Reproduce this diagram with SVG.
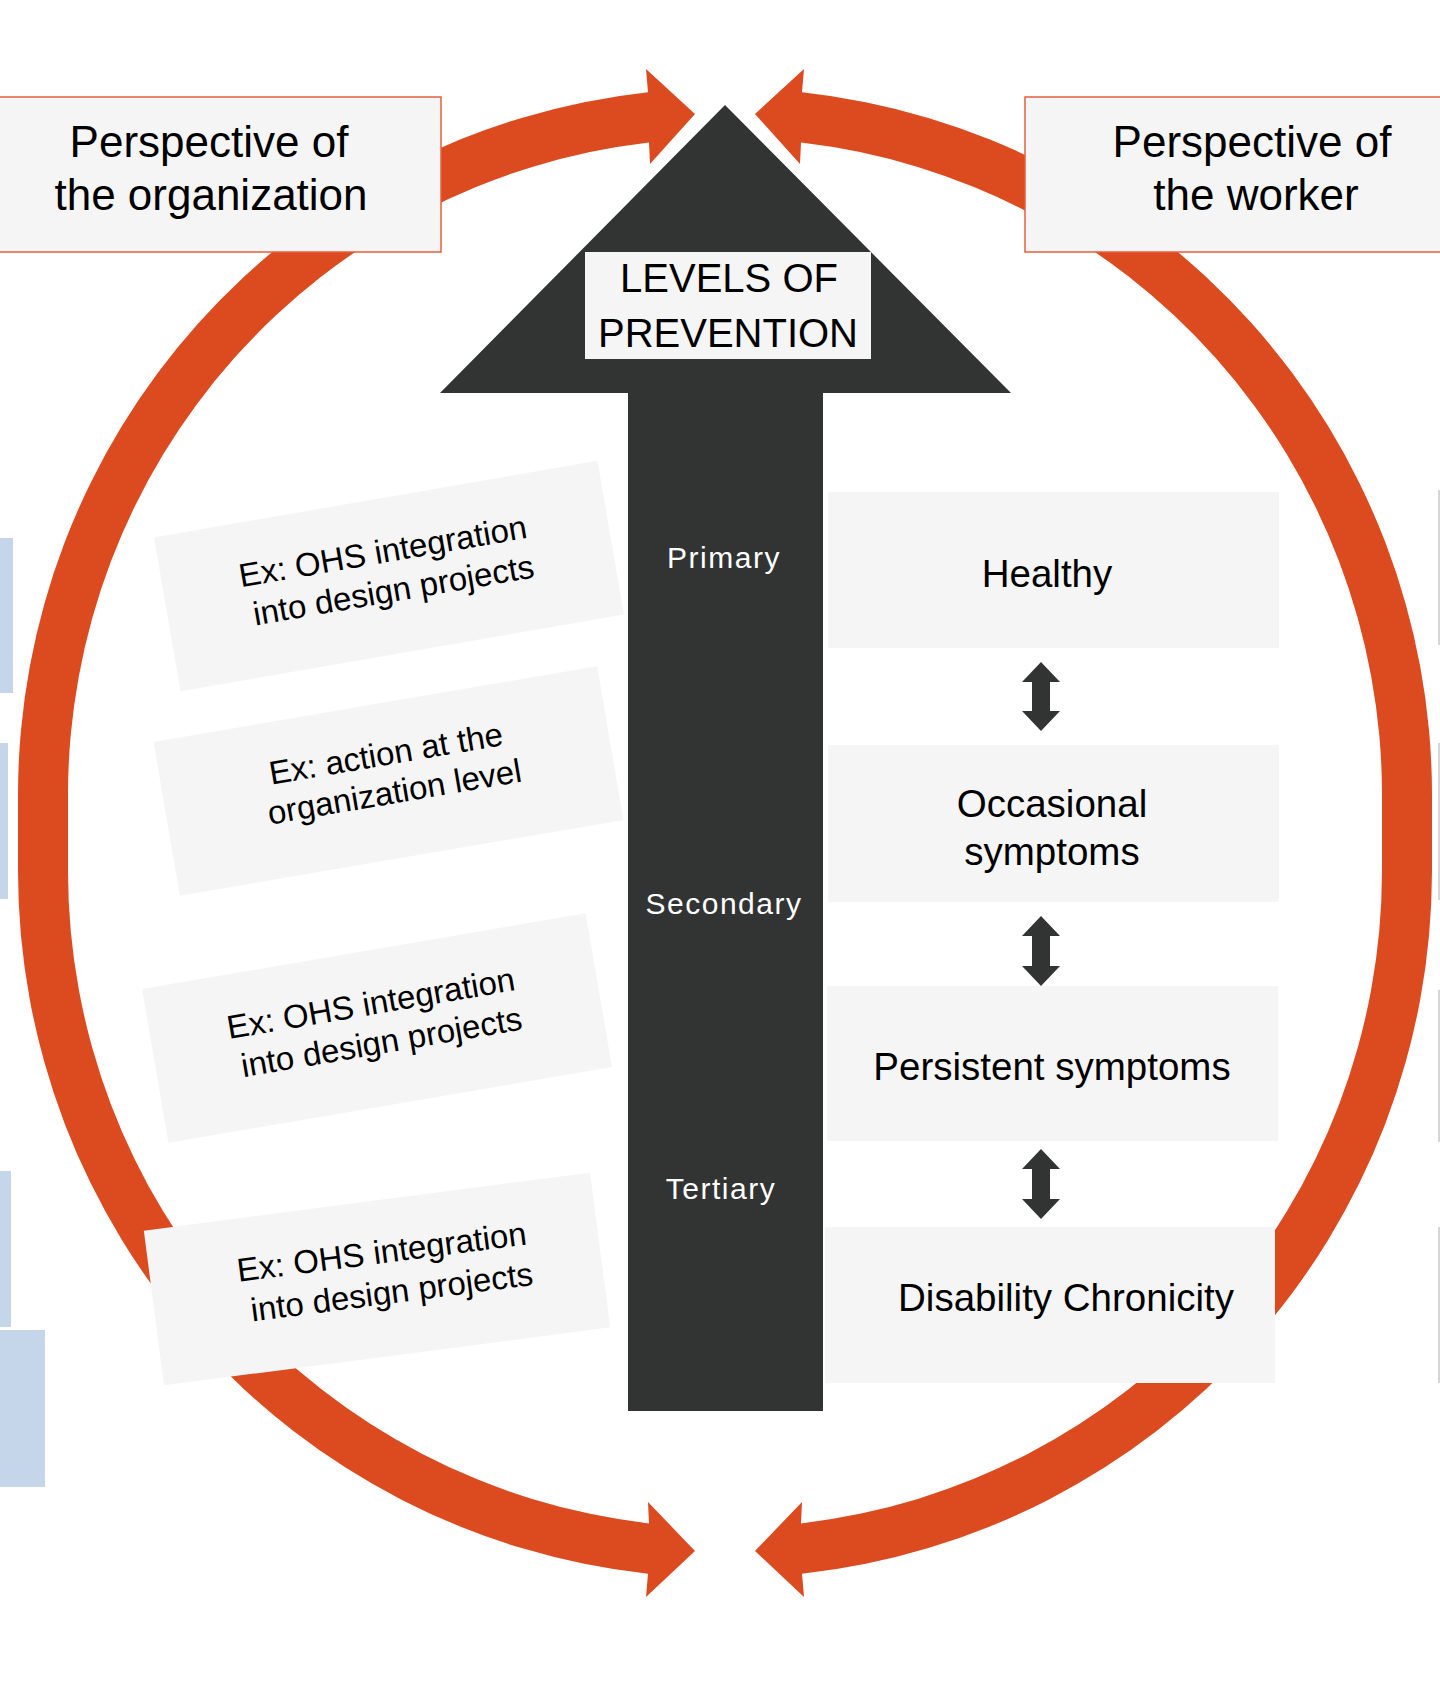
<svg xmlns="http://www.w3.org/2000/svg" width="1440" height="1690" viewBox="0 0 1440 1690">
  <style>
    text { font-family: "Liberation Sans", Arial, sans-serif; fill: #000; }
    .box { fill: #f5f5f5; }
    .persp { fill: #f5f5f5; stroke: #e4603a; stroke-width: 1.5; }
    .ring { fill: #dc4a20; }
    .dark { fill: #323433; }
    .t43 { font-size: 44px; text-anchor: middle; }
    .t40 { font-size: 40px; text-anchor: middle; }
    .t38 { font-size: 38.5px; text-anchor: middle; }
    .t33 { font-size: 33px; text-anchor: middle; }
    .lvl { font-size: 30px; text-anchor: middle; fill: #ffffff; letter-spacing: 1.5px; }
    .sliver { fill: #c5d5ea; }
    .edge { fill: #d6d6d6; }
  </style>

  <!-- partial shapes at page edges -->
  <g id="edge-shapes">
    <rect class="sliver" x="0" y="538" width="13" height="155"/>
    <rect class="sliver" x="0" y="743" width="8" height="156"/>
    <rect class="sliver" x="0" y="1171" width="11" height="156"/>
    <rect class="sliver" x="0" y="1330" width="45" height="157"/>
    <rect class="edge" x="1438" y="490" width="2" height="155"/>
    <rect class="edge" x="1438" y="743" width="2" height="157"/>
    <rect class="edge" x="1438" y="990" width="2" height="152"/>
    <rect class="edge" x="1438" y="1227" width="2" height="156"/>
  </g>

  <!-- connectors: circular arrows and double arrows -->
  <g id="connectors">
    <path id="ring-left" class="ring" d="M 695 114 L 646 69 L 648 92.2 A 707 707 0 0 0 18 795 L 18 871 A 707 707 0 0 0 648 1573.8 L 646 1597 L 695 1551 L 648 1502 L 649 1523.4 A 657 657 0 0 1 68 871 L 68 795 A 657 657 0 0 1 649 142.4 L 650 164 Z"/>
    <path id="ring-right" class="ring" d="M 755 114 L 804 69 L 802 92.2 A 707 707 0 0 1 1432 795 L 1432 871 A 707 707 0 0 1 802 1573.8 L 804 1597 L 755 1551 L 802 1502 L 801 1523.4 A 657 657 0 0 0 1382 871 L 1382 795 A 657 657 0 0 0 801 142.4 L 800 164 Z"/>
    <polygon id="arrow-healthy-occasional" class="dark" points="1041,662 1060,682 1050,682 1050,711 1060,711 1041,731 1022,711 1032,711 1032,682 1022,682"/>
    <polygon id="arrow-occasional-persistent" class="dark" points="1041,916 1060,936 1050,936 1050,966 1060,966 1041,986 1022,966 1032,966 1032,936 1022,936"/>
    <polygon id="arrow-persistent-disability" class="dark" points="1041,1149 1060,1169 1050,1169 1050,1199 1060,1199 1041,1219 1022,1199 1032,1199 1032,1169 1022,1169"/>
  </g>

  <!-- central levels-of-prevention arrow -->
  <g id="levels-arrow">
    <polygon class="dark" points="725,105 1011,393 823,393 823,1411 628,1411 628,393 440,393"/>
    <text class="lvl" x="724" y="568">Primary</text>
    <text class="lvl" x="724" y="914">Secondary</text>
    <text class="lvl" x="721" y="1199">Tertiary</text>
  </g>

  <g id="levels-title">
    <rect class="box" x="585" y="252" width="286" height="107"/>
    <text class="t40" x="729" y="292">LEVELS OF</text>
    <text class="t40" x="728" y="347">PREVENTION</text>
  </g>

  <!-- perspectives -->
  <g id="perspective-organization">
    <rect class="persp" x="-2" y="97" width="443" height="155"/>
    <text class="t43" x="209" y="157">Perspective of</text>
    <text class="t43" x="211" y="210">the organization</text>
  </g>
  <g id="perspective-worker">
    <rect class="persp" x="1025" y="97" width="420" height="155"/>
    <text class="t43" x="1252" y="157">Perspective of</text>
    <text class="t43" x="1256" y="210">the worker</text>
  </g>

  <!-- organization examples (rotated) -->
  <g id="example-1" transform="translate(389,576) rotate(-9.8)">
    <rect class="box" x="-225" y="-78" width="450" height="156"/>
    <text class="t33" x="-2" y="-14">Ex: OHS integration</text>
    <text class="t33" x="2" y="26">into design projects</text>
  </g>
  <g id="example-2" transform="translate(388.5,781) rotate(-9.7)">
    <rect class="box" x="-225" y="-78" width="450" height="156"/>
    <text class="t33" x="2" y="-16">Ex: action at the</text>
    <text class="t33" x="4" y="23">organization level</text>
  </g>
  <g id="example-3" transform="translate(377,1028) rotate(-9.7)">
    <rect class="box" x="-225" y="-78" width="450" height="156"/>
    <text class="t33" x="-2" y="-14">Ex: OHS integration</text>
    <text class="t33" x="2" y="26">into design projects</text>
  </g>
  <g id="example-4" transform="translate(377,1279) rotate(-7.4)">
    <rect class="box" x="-225" y="-78" width="450" height="156"/>
    <text class="t33" x="8" y="-15">Ex: OHS integration</text>
    <text class="t33" x="13" y="26">into design projects</text>
  </g>

  <!-- worker states -->
  <g id="state-healthy">
    <rect class="box" x="828" y="492" width="451" height="156"/>
    <text class="t38" x="1047" y="587">Healthy</text>
  </g>
  <g id="state-occasional">
    <rect class="box" x="828" y="745" width="451" height="157"/>
    <text class="t38" x="1052" y="817">Occasional</text>
    <text class="t38" x="1052" y="865">symptoms</text>
  </g>
  <g id="state-persistent">
    <rect class="box" x="827" y="986" width="451" height="155"/>
    <text class="t38" x="1052" y="1080">Persistent symptoms</text>
  </g>
  <g id="state-disability">
    <rect class="box" x="825" y="1227" width="450" height="156"/>
    <text class="t38" x="1066" y="1311">Disability Chronicity</text>
  </g>
</svg>
